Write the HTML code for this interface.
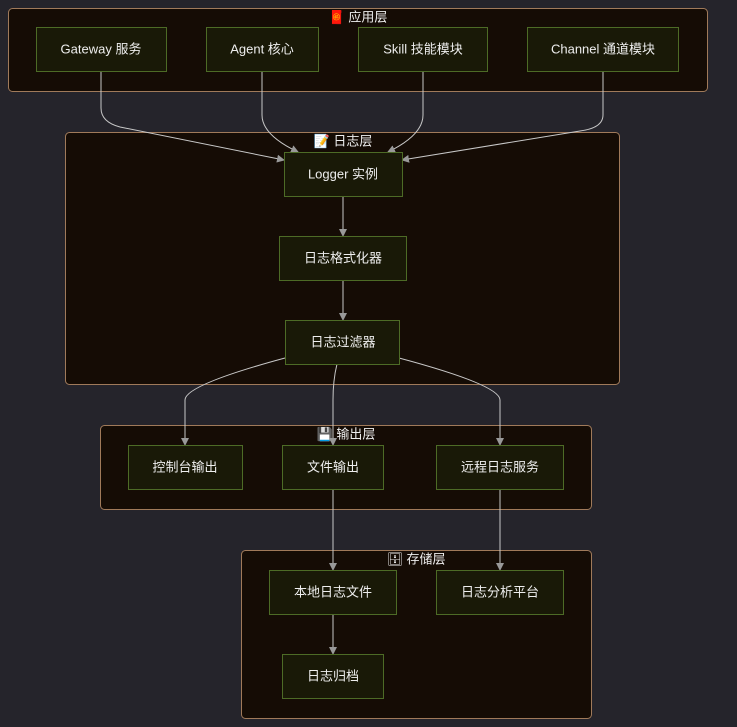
<!DOCTYPE html>
<html><head><meta charset="utf-8"><style>
html,body{margin:0;padding:0;background:#25242b;}
svg{display:block;font-family:"Liberation Sans","Noto Sans CJK SC",sans-serif;}
.c{fill:#150c05;stroke:#a07a5a;stroke-width:1;}
.n{fill:#191907;stroke:#4d6b26;stroke-width:1;}
.t{fill:#eeeeee;font-size:13px;text-anchor:middle;dominant-baseline:central;}
.e{fill:none;stroke:#c8c8c8;stroke-width:1;}
</style></head><body>
<svg width="737" height="727" viewBox="0 0 737 727">
<defs><marker id="a" markerWidth="8" markerHeight="8" refX="7" refY="4" orient="auto" markerUnits="userSpaceOnUse"><path d="M0,0 L8,4 L0,8 z" fill="#999"/></marker></defs>
<rect class="c" x="8.5" y="8.5" width="699" height="83" rx="4"/>
<rect class="c" x="65.5" y="132.5" width="554" height="252" rx="4"/>
<rect class="c" x="100.5" y="425.5" width="491" height="84" rx="4"/>
<rect class="c" x="241.5" y="550.5" width="350" height="168" rx="4"/>
<text class="t" x="358" y="17">🧧 应用层</text>
<text class="t" x="343" y="141">📝 日志层</text>
<text class="t" x="346" y="434">💾 输出层</text>
<text class="t" x="416" y="559">🗄 存储层</text>
<g class="e" marker-end="url(#a)">
<path d="M101,71 V108 Q101,122 120,127 L284,160"/>
<path d="M262,71 V115 Q262,135 298,152"/>
<path d="M423,71 V115 Q423,135 388,152"/>
<path d="M603,71 V115 Q603,128 580,131 L402,160"/>
<path d="M343,196 V236"/>
<path d="M343,280 V320"/>
<path d="M285,358 Q185,385 185,400 V445"/>
<path d="M337,364 Q333,380 333,400 V445"/>
<path d="M399,358 Q500,385 500,400 V445"/>
<path d="M333,489 V570"/>
<path d="M500,489 V570"/>
<path d="M333,614 V654"/>
</g>
<rect class="n" x="36.5" y="27.5" width="130" height="44"/><text class="t" x="101" y="49">Gateway 服务</text>
<rect class="n" x="206.5" y="27.5" width="112" height="44"/><text class="t" x="262" y="49">Agent 核心</text>
<rect class="n" x="358.5" y="27.5" width="129" height="44"/><text class="t" x="423" y="49">Skill 技能模块</text>
<rect class="n" x="527.5" y="27.5" width="151" height="44"/><text class="t" x="603" y="49">Channel 通道模块</text>
<rect class="n" x="284.5" y="152.5" width="118" height="44"/><text class="t" x="343" y="174">Logger 实例</text>
<rect class="n" x="279.5" y="236.5" width="127" height="44"/><text class="t" x="343" y="258">日志格式化器</text>
<rect class="n" x="285.5" y="320.5" width="114" height="44"/><text class="t" x="343" y="342">日志过滤器</text>
<rect class="n" x="128.5" y="445.5" width="114" height="44"/><text class="t" x="185" y="467">控制台输出</text>
<rect class="n" x="282.5" y="445.5" width="101" height="44"/><text class="t" x="333" y="467">文件输出</text>
<rect class="n" x="436.5" y="445.5" width="127" height="44"/><text class="t" x="500" y="467">远程日志服务</text>
<rect class="n" x="269.5" y="570.5" width="127" height="44"/><text class="t" x="333" y="592">本地日志文件</text>
<rect class="n" x="436.5" y="570.5" width="127" height="44"/><text class="t" x="500" y="592">日志分析平台</text>
<rect class="n" x="282.5" y="654.5" width="101" height="44"/><text class="t" x="333" y="676">日志归档</text>
</svg>
</body></html>
